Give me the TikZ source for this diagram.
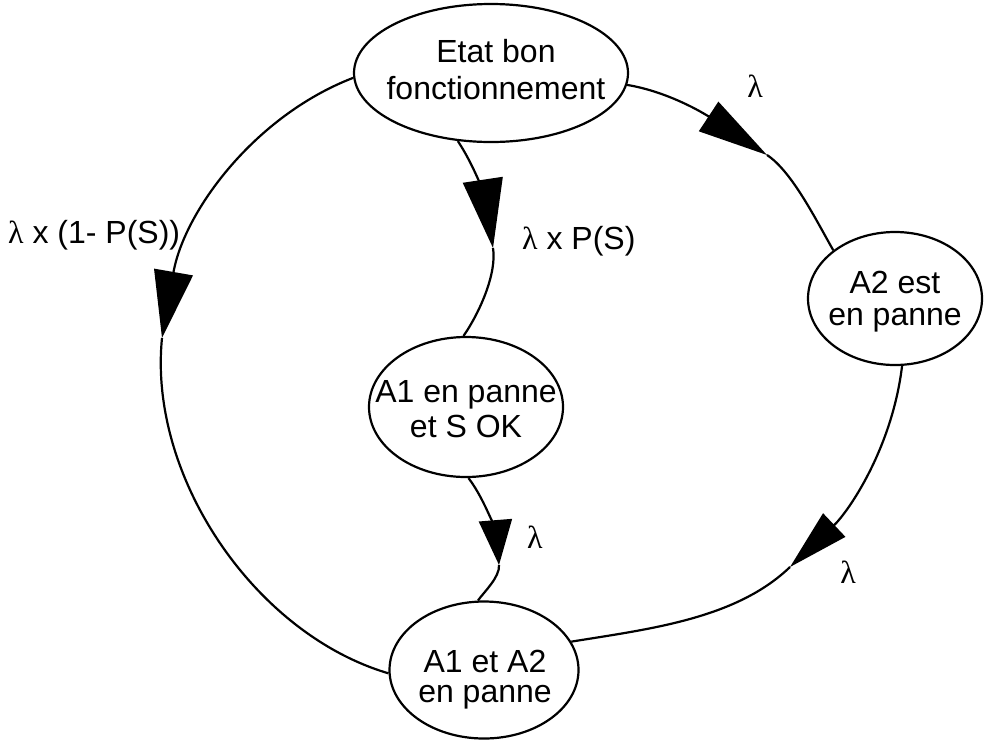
\documentclass[tikz,border=0pt]{standalone}
\usepackage{fontspec}
\setmainfont{Liberation Sans}
\newfontfamily\lamfont{Liberation Serif}
\usetikzlibrary{shapes.geometric,arrows.meta}

\begin{document}
\begin{tikzpicture}[x=1pt,y=-1pt,
  state/.style={draw, line width=2.2pt, ellipse, inner sep=0pt},
  txt/.style={align=center, inner sep=0pt},
  lbl/.style={font=\fontsize{32}{37}\selectfont, inner sep=0pt},
  conn/.style={line width=2.2pt},
]
\useasboundingbox (0,0) rectangle (990,740);

% states
\node[state, minimum width=274pt, minimum height=138pt] (bon) at (491,73) {};
\node[state, minimum width=174pt, minimum height=133pt] (a2) at (895,298.5) {};
\node[state, minimum width=194pt, minimum height=140pt] (a1) at (466,407) {};
\node[state, minimum width=189pt, minimum height=137pt] (a12) at (484,670) {};

% state texts
\node[txt, font=\fontsize{32}{37}\selectfont] (bon-t) at (496,70) {Etat bon\\fonctionnement};
\node[txt, font=\fontsize{32}{32}\selectfont] (a2-t) at (895,302) {A2 est\\en panne};
\node[txt, font=\fontsize{32}{35}\selectfont] (a1-t) at (466,409) {A1 en panne\\et S OK};
\node[txt, font=\fontsize{32}{30}\selectfont] (a12-t) at (485,680) {A1 et A2\\en panne};

% transition rates
\node[lbl, anchor=base] (l1) at (755,97) {\lamfont λ};
\node[lbl, anchor=base west] (l2) at (8,243) {{\lamfont λ} x (1- P(S))};
\node[lbl, anchor=base west] (l3) at (522,249) {{\lamfont λ} x P(S)};
\node[lbl, anchor=base] (l4) at (535,548) {\lamfont λ};
\node[lbl, anchor=base] (l5) at (848,583) {\lamfont λ};

% arrow tip positions
\coordinate (t1) at (767,155);
\coordinate (t2) at (162,338);
\coordinate (t3) at (493,248);
\coordinate (t4) at (499,565);
\coordinate (t5) at (790,567);

% transitions
\draw[conn, -{Triangle[length=70pt,width=35pt]}] (bon.-5) .. controls (676,93) and (717,122) .. (t1);
\draw[conn] (t1) .. controls (792,171.5) and (816,220) .. (a2.142);

\draw[conn, -{Triangle[length=67pt,width=39pt]}] (bon.182) .. controls (254,116) and (184,212) .. (t2);
\draw[conn] (t2) .. controls (148,477) and (255,634) .. (a12.182);

\draw[conn, -{Triangle[length=69pt,width=40pt]}] (bon.244) .. controls (479,173) and (487,208) .. (t3);
\draw[conn] (t3) .. controls (497,273) and (480,312) .. (a1.92);

\draw[conn, -{Triangle[length=45pt,width=33pt]}] (a1.-88) .. controls (487,502) and (497,540) .. (t4);
\draw[conn] (t4) .. controls (500,577) and (484,592) .. (a12.95);

\draw[conn, -{Triangle[length=61pt,width=32pt]}] (a2.-84) .. controls (892,449) and (848,512) .. (t5);
\draw[conn] (t5) .. controls (736,619) and (649,629) .. (a12.18);
\end{tikzpicture}
\end{document}
